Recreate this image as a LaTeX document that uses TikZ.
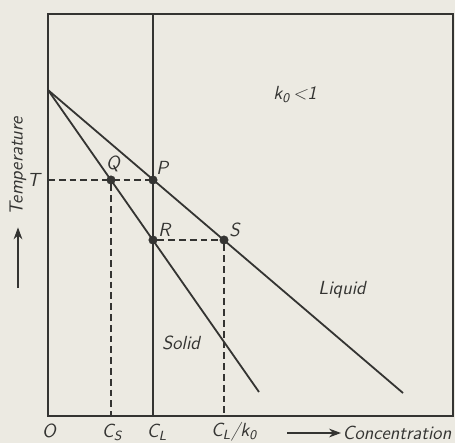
\documentclass[tikz,border=0pt]{standalone}
\usetikzlibrary{arrows.meta,calc,positioning}
\definecolor{paper}{RGB}{236,234,226}
\definecolor{ink}{RGB}{52,52,50}
\tikzset{
  dot/.style={
    inner sep = 0pt,
    minimum size = 2.1mm,
    shape = circle,
    draw = ink,
    fill = ink
  },
  curve/.style={
    draw = ink,
    line width = 0.45mm
  },
  guide/.style={
    draw = ink,
    line width = 0.3mm,
    dash pattern = on 1.7mm off 1mm
  },
  lab/.style={
    text = ink,
    inner sep = 1pt
  },
  every picture/.style = {
    font=\sffamily\itshape\fontsize{13.5}{16}\selectfont
  }
}

\begin{document}
\begin{tikzpicture}[x=0.25mm,y=0.25mm]
    \fill[paper] (-48,-27) rectangle (407,416);
    \useasboundingbox (-48,-27) rectangle (407,416);
    % frame and the C_L line
    \coordinate (O) at (0,0);
    \coordinate (corner) at (405,402);
    \coordinate (cltop) at (105,402);
    \draw[curve] (O) rectangle (corner);
    % solidus and liquidus
    \coordinate (apex) at (0,326);
    \coordinate (lend) at (355,23);
    \coordinate (send) at (211,24);
    \draw[curve] (apex) -- (lend);
    \draw[curve] (apex) -- (send);
    \node[dot] (P) at (105,236) {};
    \node[dot] (Q) at (63,236) {};
    \node[dot] (R) at (105,176) {};
    \node[dot] (S) at (176,176) {};
    \draw[curve] (P |- O) -- (cltop);
    % dashed guides
    \coordinate (tpt) at (O |- P);
    \draw[guide] (tpt) -- (P);
    \draw[guide] (Q) -- (Q |- O);
    \draw[guide] (R) -- (S);
    \draw[guide] (S) -- (S |- O);
    % point labels
    \node[lab, above=0.5mm of Q, xshift=0.5mm] {Q};
    \node[lab, above right=0.1mm and -0.4mm of P] {P};
    \node[lab, above right=-0.4mm and 0.1mm of R] {R};
    \node[lab, above right=-0.4mm and 0.1mm of S] {S};
    \node[lab, left=1.6mm of tpt] {T};
    % axis labels
    \node[lab] (o) at (1,-15) {O};
    \node[lab] (cs) at (64,-16) {C\textsubscript{S}};
    \node[lab] (cl) at (109,-16) {C\textsubscript{L}};
    \node[lab] (clk) at (186,-16) {C\textsubscript{L}/k\textsubscript{0}};
    \node[lab, anchor=west] (conc) at (293,-17) {Concentration};
    \coordinate (carr) at (239,-17);
    \draw[ink, line width=0.3mm, -{Stealth[length=3mm,width=2.2mm]}] (carr) -- (conc.west);
    \node[lab, rotate=90, anchor=west] (temp) at (-30,199) {Temperature};
    \coordinate (tarr) at (-30,128);
    \draw[ink, line width=0.3mm, shorten >=2.6mm, -{Stealth[length=3mm,width=2.2mm]}] (tarr) -- (temp.west);
    % regions
    \node[lab] (solid) at (133,73) {Solid};
    \node[lab] (liquid) at (294,126) {Liquid};
    \node[lab] (k) at (247,321) {k\textsubscript{0}\,<1};
\end{tikzpicture}
\end{document}
